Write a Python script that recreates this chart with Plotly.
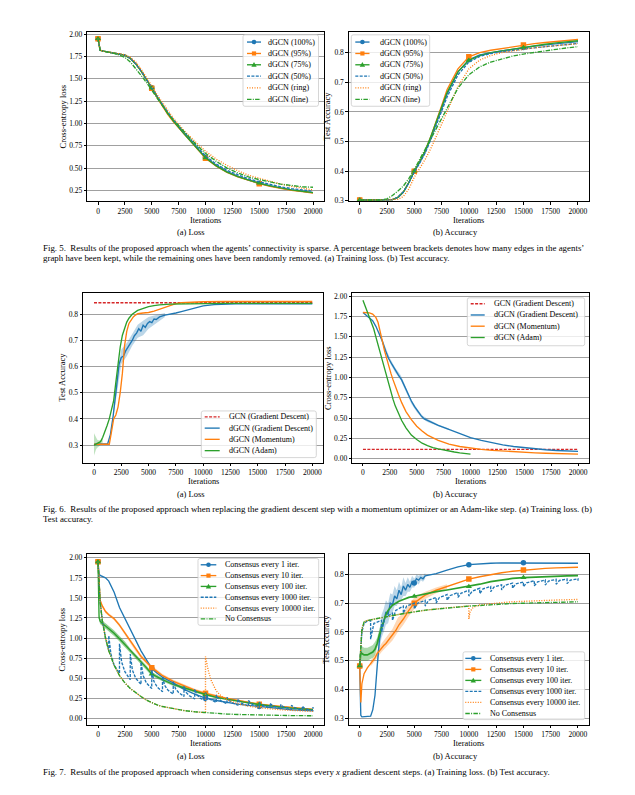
import plotly.graph_objects as go

W, H = 635, 795
FONT = "Liberation Serif"
BLUE, ORANGE, GREEN, RED = "#1f77b4", "#ff7f0e", "#2ca02c", "#d62728"
DASH = "3px,1.4px"
DOT = "1px,1.5px"
DASHDOT = "4.5px,1.3px,1px,1.3px"

x_ticks = [0, 2500, 5000, 7500, 10000, 12500, 15000, 17500, 20000]
loss_ticks_a = [0.25, 0.50, 0.75, 1.00, 1.25, 1.50, 1.75, 2.00]
loss_ticks_b = [0.00, 0.25, 0.50, 0.75, 1.00, 1.25, 1.50, 1.75, 2.00]
acc_ticks = [0.3, 0.4, 0.5, 0.6, 0.7, 0.8]

# ---------------- Fig. 5 ----------------
f5_iter = [0, 200, 500, 1000, 1500, 2000, 2500, 3000, 3500, 4000, 4500, 5000, 5500, 6000, 6500,
           7000, 7500, 8000, 9000, 10000, 11000, 12000, 13000, 14000, 15000, 16000, 17000, 18000, 19000, 20000]
f5_mark_iter = [0, 5000, 10000, 15000]
f5_labels = ["dGCN (100%)", "dGCN (95%)", "dGCN (75%)", "dGCN (50%)", "dGCN (ring)", "dGCN (line)"]

f5_loss_100 = [1.95, 1.82, 1.81, 1.80, 1.79, 1.78, 1.765, 1.73, 1.67, 1.59, 1.50, 1.40, 1.30, 1.20, 1.11,
               1.03, 0.96, 0.89, 0.75, 0.62, 0.53, 0.46, 0.41, 0.365, 0.33, 0.30, 0.275, 0.255, 0.24, 0.225]
f5_loss_95 = [1.95, 1.82, 1.81, 1.80, 1.79, 1.78, 1.765, 1.73, 1.67, 1.59, 1.50, 1.395, 1.29, 1.19, 1.10,
              1.02, 0.95, 0.88, 0.74, 0.61, 0.52, 0.45, 0.40, 0.36, 0.325, 0.295, 0.27, 0.25, 0.235, 0.22]
f5_loss_75 = [1.95, 1.82, 1.81, 1.80, 1.79, 1.78, 1.765, 1.73, 1.67, 1.59, 1.50, 1.40, 1.30, 1.20, 1.11,
              1.03, 0.955, 0.885, 0.75, 0.615, 0.525, 0.455, 0.405, 0.365, 0.33, 0.30, 0.275, 0.255, 0.24, 0.225]
f5_loss_50 = [1.95, 1.82, 1.81, 1.80, 1.79, 1.78, 1.765, 1.73, 1.67, 1.59, 1.50, 1.40, 1.305, 1.21, 1.12,
              1.045, 0.97, 0.905, 0.77, 0.635, 0.545, 0.475, 0.425, 0.38, 0.345, 0.315, 0.29, 0.27, 0.255, 0.24]
f5_loss_ring = [1.95, 1.82, 1.81, 1.80, 1.79, 1.78, 1.77, 1.74, 1.69, 1.61, 1.52, 1.42, 1.32, 1.23, 1.14,
                1.06, 0.99, 0.92, 0.80, 0.69, 0.60, 0.53, 0.47, 0.42, 0.385, 0.35, 0.32, 0.295, 0.275, 0.255]
f5_loss_line = [1.95, 1.82, 1.81, 1.80, 1.785, 1.765, 1.74, 1.69, 1.62, 1.54, 1.46, 1.37, 1.28, 1.19, 1.11,
                1.04, 0.97, 0.91, 0.78, 0.665, 0.575, 0.50, 0.445, 0.40, 0.37, 0.345, 0.32, 0.305, 0.29, 0.285]

f5_acc_100 = [0.303, 0.303, 0.303, 0.303, 0.303, 0.303, 0.303, 0.304, 0.312, 0.33, 0.362, 0.40, 0.43, 0.465, 0.51,
              0.56, 0.61, 0.66, 0.735, 0.776, 0.792, 0.80, 0.806, 0.811, 0.817, 0.822, 0.826, 0.83, 0.834, 0.837]
f5_acc_95 = [0.303, 0.303, 0.303, 0.303, 0.303, 0.303, 0.303, 0.304, 0.312, 0.33, 0.362, 0.40, 0.432, 0.468, 0.515,
             0.565, 0.62, 0.675, 0.745, 0.786, 0.80, 0.808, 0.814, 0.82, 0.826, 0.83, 0.834, 0.838, 0.841, 0.844]
f5_acc_75 = [0.303, 0.303, 0.303, 0.303, 0.303, 0.303, 0.303, 0.304, 0.312, 0.33, 0.362, 0.40, 0.432, 0.468, 0.515,
             0.565, 0.615, 0.665, 0.735, 0.774, 0.79, 0.80, 0.806, 0.812, 0.817, 0.823, 0.828, 0.833, 0.837, 0.84]
f5_acc_50 = [0.303, 0.303, 0.303, 0.303, 0.303, 0.303, 0.303, 0.304, 0.312, 0.33, 0.36, 0.397, 0.428, 0.462, 0.505,
             0.552, 0.60, 0.65, 0.725, 0.768, 0.787, 0.797, 0.803, 0.808, 0.812, 0.816, 0.82, 0.824, 0.828, 0.831]
f5_acc_ring = [0.303, 0.303, 0.303, 0.303, 0.303, 0.303, 0.303, 0.303, 0.305, 0.315, 0.34, 0.38, 0.41, 0.44, 0.475,
               0.515, 0.555, 0.60, 0.685, 0.745, 0.775, 0.79, 0.80, 0.806, 0.812, 0.816, 0.82, 0.824, 0.827, 0.83]
f5_acc_line = [0.303, 0.303, 0.303, 0.303, 0.303, 0.303, 0.307, 0.318, 0.333, 0.35, 0.375, 0.405, 0.44, 0.475, 0.51,
               0.545, 0.58, 0.615, 0.68, 0.725, 0.752, 0.768, 0.779, 0.788, 0.795, 0.801, 0.806, 0.811, 0.816, 0.82]

# ---------------- Fig. 6 ----------------
f6_labels = ["GCN (Gradient Descent)", "dGCN (Gradient Descent)", "dGCN (Momentum)", "dGCN (Adam)"]
f6_gcn_iter = [0, 20000]
f6_gcn_acc = [0.844, 0.844]
f6_gcn_loss = [0.114, 0.114]

f6a_gd_iter = [0, 500, 1000, 1250, 1500, 1750, 2000, 2150, 2300, 2500, 2700, 2900, 3100, 3300, 3500, 3700, 3900,
               4100, 4300, 4500, 4700, 4900, 5100, 5300, 5500, 5700, 6000, 6500, 7000, 7500, 8000, 8500, 9000,
               10000, 11000, 12000, 13000, 14000, 15000, 16000, 17000, 18000, 19000, 20000]
f6a_gd_acc = [0.303, 0.303, 0.303, 0.305, 0.34, 0.41, 0.50, 0.57, 0.61, 0.635, 0.64, 0.66, 0.672, 0.685, 0.70, 0.718,
              0.728, 0.745, 0.735, 0.758, 0.75, 0.765, 0.772, 0.768, 0.782, 0.78, 0.79, 0.797, 0.80, 0.805, 0.81,
              0.815, 0.821, 0.832, 0.837, 0.839, 0.84, 0.84, 0.84, 0.84, 0.84, 0.84, 0.84, 0.84]
f6a_gd_band_iter = [1750, 2000, 2500, 3000, 3500, 4000, 4500, 5000, 5500, 6000, 6500]
f6a_gd_band_lo = [0.40, 0.47, 0.61, 0.64, 0.68, 0.71, 0.72, 0.745, 0.76, 0.775, 0.79]
f6a_gd_band_hi = [0.43, 0.54, 0.665, 0.69, 0.725, 0.76, 0.775, 0.79, 0.795, 0.80, 0.805]

f6a_mom_iter = [0, 500, 1000, 1400, 1600, 1800, 2000, 2200, 2400, 2600, 2800, 3000, 3200, 3400, 3600, 3800, 4000,
                4500, 5000, 5500, 6000, 6500, 7000, 7500, 8000, 9000, 10000, 12000, 14000, 16000, 18000, 20000]
f6a_mom_acc = [0.303, 0.303, 0.303, 0.303, 0.35, 0.40, 0.415, 0.445, 0.50, 0.575, 0.68, 0.735, 0.765, 0.78, 0.79,
               0.797, 0.802, 0.805, 0.807, 0.812, 0.82, 0.828, 0.836, 0.841, 0.844, 0.847, 0.848, 0.849, 0.849,
               0.849, 0.849, 0.849]

f6a_adam_iter = [0, 200, 400, 600, 800, 1000, 1200, 1400, 1600, 1800, 2000, 2200, 2400, 2600, 2800, 3000, 3200,
                 3500, 4000, 4500, 5000, 5500, 6000, 7000, 8000, 10000, 12000, 14000, 16000, 18000, 20000]
f6a_adam_acc = [0.30, 0.305, 0.31, 0.313, 0.33, 0.35, 0.375, 0.40, 0.435, 0.47, 0.54, 0.61, 0.675, 0.72, 0.75, 0.77,
                0.785, 0.80, 0.815, 0.823, 0.829, 0.833, 0.836, 0.839, 0.84, 0.841, 0.842, 0.842, 0.842, 0.842, 0.842]
f6a_adam_band_iter = [0, 100, 200, 300, 400, 600, 800]
f6a_adam_band_lo = [0.26, 0.27, 0.285, 0.29, 0.295, 0.30, 0.31]
f6a_adam_band_hi = [0.345, 0.335, 0.325, 0.32, 0.318, 0.318, 0.325]

f6b_gd_iter = [0, 300, 600, 900, 1200, 1500, 1800, 2100, 2400, 2700, 3000, 3300, 3600, 3900, 4200, 4500, 4800,
               5100, 5400, 5700, 6000, 6500, 7000, 7500, 8000, 8500, 9000, 9500, 10000, 11000, 12000, 13000,
               14000, 15000, 16000, 17000, 18000, 19000, 20000]
f6b_gd_loss = [1.80, 1.77, 1.74, 1.70, 1.63, 1.55, 1.45, 1.33, 1.23, 1.16, 1.09, 1.03, 0.97, 0.88, 0.79, 0.71, 0.64,
               0.58, 0.53, 0.49, 0.47, 0.44, 0.41, 0.385, 0.36, 0.335, 0.31, 0.285, 0.26, 0.225, 0.195, 0.17,
               0.15, 0.135, 0.12, 0.11, 0.10, 0.095, 0.09]
f6b_gd_band_iter = [1500, 2000, 2500, 3000, 3500, 4000, 4500, 5000, 5500, 6000, 6500, 7000, 8000]
f6b_gd_band_lo = [1.53, 1.34, 1.18, 1.06, 0.97, 0.82, 0.675, 0.575, 0.495, 0.45, 0.425, 0.398, 0.35]
f6b_gd_band_hi = [1.57, 1.40, 1.24, 1.12, 1.03, 0.88, 0.725, 0.625, 0.535, 0.49, 0.455, 0.422, 0.37]

f6b_mom_iter = [0, 300, 600, 900, 1200, 1400, 1600, 1800, 2000, 2200, 2400, 2600, 2800, 3000, 3300, 3600, 4000,
                4500, 5000, 5500, 6000, 7000, 8000, 9000, 10000, 11000, 12000, 13000, 14000, 15000, 16000, 17000,
                18000, 19000, 20000]
f6b_mom_loss = [1.80, 1.80, 1.795, 1.78, 1.74, 1.68, 1.58, 1.45, 1.33, 1.23, 1.14, 1.05, 0.97, 0.89, 0.79, 0.69,
                0.58, 0.48, 0.40, 0.34, 0.29, 0.225, 0.18, 0.15, 0.13, 0.115, 0.103, 0.093, 0.085, 0.078, 0.072,
                0.067, 0.062, 0.058, 0.055]

f6b_adam_iter = [0, 200, 400, 600, 800, 1000, 1200, 1400, 1600, 1800, 2000, 2200, 2400, 2600, 2800, 3000, 3300,
                 3600, 4000, 4500, 5000, 5500, 6000, 6500, 7000, 7500, 8000, 8500, 9000, 9500, 10000]
f6b_adam_loss = [1.95, 1.88, 1.80, 1.74, 1.67, 1.60, 1.50, 1.40, 1.31, 1.21, 1.10, 1.00, 0.91, 0.82, 0.73, 0.65,
                 0.56, 0.47, 0.38, 0.29, 0.235, 0.19, 0.16, 0.135, 0.12, 0.105, 0.093, 0.082, 0.072, 0.063, 0.055]

# ---------------- Fig. 7 ----------------
f7_labels = ["Consensus every 1 iter.", "Consensus every 10 iter.", "Consensus every 100 iter.",
             "Consensus every 1000 iter.", "Consensus every 10000 iter.", "No Consensus"]
f7_mark_iter = [0, 5000, 10000, 15000]
f7_iter = [0, 100, 200, 400, 700, 1000, 1500, 2000, 2500, 3000, 3500, 4000, 4500, 5000, 5500, 6000, 7000, 8000,
           9000, 10000, 11000, 12000, 13000, 14000, 15000, 16000, 17000, 18000, 19000, 20000]
f7_loss_c1 = [1.95, 1.80, 1.78, 1.77, 1.75, 1.71, 1.57, 1.38, 1.24, 1.10, 0.97, 0.84, 0.73, 0.62, 0.56, 0.51, 0.44,
              0.36, 0.30, 0.25, 0.22, 0.195, 0.175, 0.16, 0.145, 0.13, 0.115, 0.105, 0.097, 0.09]
f7_loss_c10 = [1.95, 1.62, 1.47, 1.40, 1.33, 1.29, 1.24, 1.16, 1.06, 0.96, 0.86, 0.77, 0.70, 0.63, 0.58, 0.53, 0.46,
               0.40, 0.35, 0.31, 0.275, 0.245, 0.22, 0.195, 0.175, 0.16, 0.145, 0.13, 0.12, 0.11]
f7_loss_c10_spread = [0, 0.02, 0.02, 0.02, 0.02, 0.02, 0.02, 0.02, 0.022, 0.024, 0.025, 0.025, 0.025, 0.025, 0.024,
                      0.022, 0.02, 0.018, 0.016, 0.015, 0.014, 0.013, 0.012, 0.012, 0.011, 0.011, 0.01, 0.01, 0.01, 0.01]
f7_loss_c100 = [1.95, 1.25, 1.21, 1.18, 1.15, 1.12, 1.06, 0.99, 0.92, 0.84, 0.77, 0.70, 0.63, 0.55, 0.51, 0.48, 0.42,
                0.375, 0.335, 0.295, 0.26, 0.235, 0.21, 0.19, 0.17, 0.152, 0.138, 0.126, 0.115, 0.105]
f7_loss_c100_spread = [0, 0.03, 0.035, 0.035, 0.035, 0.035, 0.035, 0.035, 0.035, 0.03, 0.03, 0.03, 0.028, 0.025,
                       0.022, 0.02, 0.018, 0.016, 0.015, 0.014, 0.013, 0.012, 0.012, 0.011, 0.011, 0.01, 0.01,
                       0.01, 0.01, 0.01]
f7_c1000_iter = [0, 100, 200, 400, 700, 999,
                 1000, 1200, 1500, 1999, 2000, 2200, 2500, 2999, 3000, 3200, 3500, 3999, 4000, 4200, 4500, 4999,
                 5000, 5200, 5500, 5999, 6000, 6200, 6500, 6999, 7000, 7200, 7500, 7999, 8000, 8200, 8500, 8999,
                 9000, 9200, 9500, 9999, 10000, 10200, 10500, 10999, 11000, 11200, 11500, 11999, 12000, 12200,
                 12500, 12999, 13000, 13200, 13500, 13999, 14000, 14200, 14500, 14999, 15000, 15200, 15500, 15999,
                 16000, 16200, 16500, 16999, 17000, 17200, 17500, 17999, 18000, 18200, 18500, 18999, 19000, 19200,
                 19500, 19999, 20000]
f7_loss_c1000 = [1.95, 1.60, 1.45, 1.22, 1.00, 0.84,
                 1.03, 0.80, 0.66, 0.56, 0.93, 0.70, 0.58, 0.48, 0.80, 0.60, 0.50, 0.42, 0.70, 0.53, 0.44, 0.37,
                 0.60, 0.46, 0.39, 0.33, 0.52, 0.41, 0.35, 0.30, 0.46, 0.37, 0.32, 0.27, 0.40, 0.32, 0.28, 0.24,
                 0.36, 0.29, 0.25, 0.215, 0.32, 0.26, 0.23, 0.195, 0.29, 0.24, 0.21, 0.18, 0.26, 0.22,
                 0.19, 0.165, 0.24, 0.20, 0.175, 0.15, 0.22, 0.185, 0.16, 0.14, 0.20, 0.17, 0.15, 0.13,
                 0.185, 0.16, 0.14, 0.12, 0.17, 0.145, 0.13, 0.11, 0.16, 0.135, 0.12, 0.10, 0.15, 0.125,
                 0.11, 0.095, 0.14]
f7_c10000_iter = [0, 100, 200, 400, 700, 1000, 1500, 2000, 2500, 3000, 3500, 4000, 4500, 5000, 5500, 6000, 7000,
                  8000, 9000, 9999, 10000, 10100, 10250, 10500, 10750, 11000, 11500, 12000, 13000, 14000, 15000,
                  16000, 17000, 18000, 19000, 20000]
f7_loss_c10000 = [1.95, 1.60, 1.45, 1.22, 1.00, 0.84, 0.66, 0.53, 0.44, 0.37, 0.315, 0.27, 0.225, 0.19, 0.165,
                  0.145, 0.118, 0.095, 0.08, 0.068, 0.77, 0.70, 0.60, 0.48, 0.40, 0.34, 0.27, 0.23, 0.18, 0.15,
                  0.13, 0.115, 0.105, 0.097, 0.09, 0.085]
f7_loss_none = [1.95, 1.60, 1.45, 1.22, 1.00, 0.84, 0.66, 0.53, 0.44, 0.37, 0.315, 0.27, 0.225, 0.19, 0.165, 0.145,
                0.118, 0.095, 0.08, 0.068, 0.058, 0.051, 0.046, 0.042, 0.039, 0.036, 0.034, 0.032, 0.031, 0.03]

f7b_iter = [0, 100, 200, 400, 700, 1000, 1200, 1400, 1600, 1800, 2000, 2200, 2400, 2600, 2800, 3000, 3300, 3600,
            4000, 4500, 5000, 5500, 6000, 7000, 8000, 9000, 10000, 11000, 12000, 13000, 14000, 15000, 16000,
            17000, 18000, 19000, 20000]
f7b_c1_iter = [0, 100, 200, 400, 700, 1000, 1200, 1400, 1600, 1800, 2000, 2200, 2400, 2600, 2800, 3000, 3200, 3400,
               3600, 3800, 4000, 4200, 4400, 4600, 4800, 5000, 5200, 5400, 5600, 5800, 6000, 7000, 8000, 9000,
               10000, 11000, 12000, 13000, 14000, 15000, 16000, 17000, 18000, 19000, 20000]
f7b_acc_c1 = [0.482, 0.31, 0.305, 0.305, 0.305, 0.307, 0.33, 0.38, 0.48, 0.57, 0.62, 0.635, 0.67, 0.66, 0.70, 0.695,
              0.725, 0.715, 0.745, 0.73, 0.76, 0.745, 0.765, 0.755, 0.775, 0.77, 0.785, 0.78, 0.79, 0.785, 0.795,
              0.803, 0.815, 0.826, 0.834, 0.837, 0.839, 0.84, 0.84, 0.841, 0.84, 0.84, 0.84, 0.84, 0.839]
f7b_c1_band_iter = [1600, 1800, 2000, 2200, 2400, 2600, 2800, 3000, 3200, 3400, 3600, 3800, 4000, 4200, 4400, 4600,
                    4800, 5000, 5200, 5400, 5600, 5800, 6000]
f7b_c1_band_lo = [0.46, 0.54, 0.58, 0.60, 0.625, 0.63, 0.66, 0.665, 0.69, 0.69, 0.71, 0.71, 0.725, 0.725, 0.74, 0.74,
                  0.755, 0.755, 0.77, 0.765, 0.78, 0.775, 0.785]
f7b_c1_band_hi = [0.50, 0.60, 0.66, 0.68, 0.71, 0.70, 0.735, 0.73, 0.76, 0.745, 0.775, 0.755, 0.79, 0.77, 0.79, 0.775,
                  0.795, 0.785, 0.80, 0.795, 0.80, 0.795, 0.805]
f7b_acc_c10 = [0.482, 0.355, 0.42, 0.455, 0.475, 0.49, 0.50, 0.51, 0.525, 0.535, 0.545, 0.553, 0.56, 0.57, 0.58,
               0.59, 0.605, 0.625, 0.645, 0.675, 0.70, 0.715, 0.728, 0.745, 0.758, 0.772, 0.784, 0.792, 0.80,
               0.806, 0.811, 0.815, 0.818, 0.821, 0.823, 0.824, 0.825]
f7b_c10_band_iter = [1000, 2000, 3000, 3500, 4000, 4500, 5000, 5500, 6000, 7000, 8000]
f7b_c10_band_lo = [0.48, 0.53, 0.57, 0.60, 0.625, 0.655, 0.68, 0.70, 0.715, 0.735, 0.75]
f7b_c10_band_hi = [0.50, 0.56, 0.61, 0.65, 0.665, 0.695, 0.72, 0.73, 0.74, 0.755, 0.766]
f7b_acc_c100 = [0.482, 0.53, 0.525, 0.52, 0.52, 0.525, 0.53, 0.54, 0.56, 0.59, 0.615, 0.64, 0.66, 0.675, 0.685,
                0.693, 0.70, 0.707, 0.713, 0.72, 0.724, 0.728, 0.733, 0.74, 0.746, 0.752, 0.758, 0.766, 0.775,
                0.781, 0.786, 0.789, 0.791, 0.793, 0.794, 0.795, 0.796]
f7b_c100_band_iter = [100, 200, 400, 700, 1000, 1200, 1400, 1600, 1800, 2000]
f7b_c100_band_lo = [0.50, 0.50, 0.50, 0.50, 0.505, 0.51, 0.52, 0.54, 0.57, 0.595]
f7b_c100_band_hi = [0.55, 0.55, 0.545, 0.545, 0.55, 0.555, 0.565, 0.58, 0.61, 0.635]
f7b_c1000_iter = [0, 100, 200, 400, 700, 999, 1000, 1300, 1999, 2000, 2300, 2999, 3000, 3300, 3999, 4000, 4300, 4999,
                  5000, 5300, 5999, 6000, 6300, 6999, 7000, 7300, 7999, 8000, 8300, 8999, 9000, 9300, 9999, 10000,
                  10300, 10999, 11000, 11300, 11999, 12000, 12300, 12999, 13000, 13300, 13999, 14000, 14300, 14999,
                  15000, 15300, 15999, 16000, 16300, 16999, 17000, 17300, 17999, 18000, 18300, 18999, 19000, 19300,
                  19999, 20000]
f7b_acc_c1000 = [0.482, 0.55, 0.60, 0.63, 0.638, 0.64, 0.575, 0.63, 0.64, 0.60, 0.65, 0.665, 0.64, 0.675, 0.69,
                 0.665, 0.69, 0.70, 0.68, 0.70, 0.71, 0.69, 0.71, 0.72, 0.70, 0.72, 0.73, 0.71, 0.727, 0.737,
                 0.72, 0.735, 0.745, 0.725, 0.742, 0.752, 0.733, 0.75, 0.758, 0.74, 0.756, 0.764, 0.746, 0.762,
                 0.77, 0.752, 0.767, 0.774, 0.757, 0.771, 0.778, 0.76, 0.774, 0.781, 0.763, 0.777, 0.783, 0.766,
                 0.779, 0.784, 0.768, 0.78, 0.785, 0.778]
f7b_c10000_iter = [0, 100, 200, 400, 700, 1000, 2000, 3000, 4000, 5000, 6000, 7000, 8000, 9000, 9999, 10000, 10100,
                   10300, 10600, 11000, 12000, 13000, 14000, 15000, 16000, 17000, 18000, 19000, 20000]
f7b_acc_c10000 = [0.482, 0.56, 0.61, 0.635, 0.64, 0.642, 0.65, 0.657, 0.664, 0.67, 0.676, 0.68, 0.684, 0.687, 0.69,
                  0.645, 0.668, 0.682, 0.689, 0.694, 0.699, 0.702, 0.705, 0.707, 0.709, 0.71, 0.711, 0.712, 0.713]
f7b_acc_none = [0.482, 0.56, 0.61, 0.635, 0.64, 0.642, 0.644, 0.645, 0.647, 0.648, 0.65, 0.651, 0.652, 0.654, 0.655,
                0.657, 0.659, 0.661, 0.664, 0.667, 0.67, 0.673, 0.676, 0.68, 0.684, 0.687, 0.69, 0.692, 0.695,
                0.697, 0.699, 0.70, 0.701, 0.702, 0.703, 0.704, 0.705]

# ---------------- figure ----------------
fig = go.Figure()


def axn(a):
    return ("x" + a, "y" + a)


def line(a, x, y, color, dash="solid", width=1.35):
    xa, ya = axn(a)
    fig.add_trace(go.Scatter(x=x, y=y, mode="lines", line=dict(color=color, width=width, dash=dash),
                             xaxis=xa, yaxis=ya, hoverinfo="skip", showlegend=False))


def band(a, x, lo, hi, rgba):
    xa, ya = axn(a)
    fig.add_trace(go.Scatter(x=list(x) + list(x)[::-1], y=list(hi) + list(lo)[::-1], fill="toself",
                             fillcolor=rgba, line=dict(width=0), mode="lines", xaxis=xa, yaxis=ya,
                             hoverinfo="skip", showlegend=False))


def spread_band(a, x, y, s, rgba):
    band(a, x, [v - d for v, d in zip(y, s)], [v + d for v, d in zip(y, s)], rgba)


def marks(a, xs, ys, mx, color, symbol):
    xa, ya = axn(a)
    my = [ys[xs.index(m)] for m in mx]
    fig.add_trace(go.Scatter(x=mx, y=my, mode="markers",
                             marker=dict(symbol=symbol, size=5.5, color=color, line=dict(width=0)),
                             xaxis=xa, yaxis=ya, hoverinfo="skip", showlegend=False))


# Fig 5a
line("", f5_iter, f5_loss_100, BLUE)
marks("", f5_iter, f5_loss_100, f5_mark_iter, BLUE, "circle")
line("", f5_iter, f5_loss_95, ORANGE)
marks("", f5_iter, f5_loss_95, f5_mark_iter, ORANGE, "square")
line("", f5_iter, f5_loss_75, GREEN)
marks("", f5_iter, f5_loss_75, f5_mark_iter, GREEN, "triangle-up")
line("", f5_iter, f5_loss_50, BLUE, DASH)
line("", f5_iter, f5_loss_ring, ORANGE, DOT)
line("", f5_iter, f5_loss_line, GREEN, DASHDOT)
# Fig 5b
line("2", f5_iter, f5_acc_100, BLUE)
marks("2", f5_iter, f5_acc_100, f5_mark_iter, BLUE, "circle")
line("2", f5_iter, f5_acc_95, ORANGE)
marks("2", f5_iter, f5_acc_95, f5_mark_iter, ORANGE, "square")
line("2", f5_iter, f5_acc_75, GREEN)
marks("2", f5_iter, f5_acc_75, f5_mark_iter, GREEN, "triangle-up")
line("2", f5_iter, f5_acc_50, BLUE, DASH)
line("2", f5_iter, f5_acc_ring, ORANGE, DOT)
line("2", f5_iter, f5_acc_line, GREEN, DASHDOT)
# Fig 6a
band("3", f6a_gd_band_iter, f6a_gd_band_lo, f6a_gd_band_hi, "rgba(31,119,180,0.3)")
band("3", f6a_adam_band_iter, f6a_adam_band_lo, f6a_adam_band_hi, "rgba(44,160,44,0.3)")
line("3", f6_gcn_iter, f6_gcn_acc, RED, DASH)
line("3", f6a_gd_iter, f6a_gd_acc, BLUE)
line("3", f6a_mom_iter, f6a_mom_acc, ORANGE)
line("3", f6a_adam_iter, f6a_adam_acc, GREEN)
# Fig 6b
band("4", f6b_gd_band_iter, f6b_gd_band_lo, f6b_gd_band_hi, "rgba(31,119,180,0.3)")
line("4", f6_gcn_iter, f6_gcn_loss, RED, DASH)
line("4", f6b_gd_iter, f6b_gd_loss, BLUE)
line("4", f6b_mom_iter, f6b_mom_loss, ORANGE)
line("4", f6b_adam_iter, f6b_adam_loss, GREEN)
# Fig 7a
spread_band("5", f7_iter, f7_loss_c10, f7_loss_c10_spread, "rgba(255,127,14,0.35)")
spread_band("5", f7_iter, f7_loss_c100, f7_loss_c100_spread, "rgba(44,160,44,0.5)")
line("5", f7_iter, f7_loss_c1, BLUE)
marks("5", f7_iter, f7_loss_c1, f7_mark_iter, BLUE, "circle")
line("5", f7_iter, f7_loss_c10, ORANGE)
marks("5", f7_iter, f7_loss_c10, f7_mark_iter, ORANGE, "square")
line("5", f7_iter, f7_loss_c100, GREEN)
marks("5", f7_iter, f7_loss_c100, f7_mark_iter, GREEN, "triangle-up")
line("5", f7_c1000_iter, f7_loss_c1000, BLUE, DASH)
line("5", f7_c10000_iter, f7_loss_c10000, ORANGE, DOT)
line("5", f7_iter, f7_loss_none, GREEN, DASHDOT)
# Fig 7b
band("6", f7b_c1_band_iter, f7b_c1_band_lo, f7b_c1_band_hi, "rgba(31,119,180,0.3)")
band("6", f7b_c10_band_iter, f7b_c10_band_lo, f7b_c10_band_hi, "rgba(255,127,14,0.3)")
band("6", f7b_c100_band_iter, f7b_c100_band_lo, f7b_c100_band_hi, "rgba(44,160,44,0.4)")
line("6", f7b_c1_iter, f7b_acc_c1, BLUE)
marks("6", f7b_c1_iter, f7b_acc_c1, f7_mark_iter, BLUE, "circle")
line("6", f7b_iter, f7b_acc_c10, ORANGE)
marks("6", f7b_iter, f7b_acc_c10, f7_mark_iter, ORANGE, "square")
line("6", f7b_iter, f7b_acc_c100, GREEN, width=1.7)
marks("6", f7b_iter, f7b_acc_c100, f7_mark_iter, GREEN, "triangle-up")
line("6", f7b_c1000_iter, f7b_acc_c1000, BLUE, DASH)
line("6", f7b_c10000_iter, f7b_acc_c10000, ORANGE, DOT)
line("6", f7b_iter, f7b_acc_none, GREEN, DASHDOT)

# ---------------- axes ----------------
panels = [
    ("", (79.25, 315.75), (21.7, 192.7), [0.128, 2.03], loss_ticks_a, "{:.2f}"),
    ("2", (340.8, 580.9), (21.7, 192.7), [0.2987, 0.871], acc_ticks, "{:.1f}"),
    ("3", (75.1, 315.2), (285.0, 456.0), [0.233, 0.882], acc_ticks, "{:.1f}"),
    ("4", (344.2, 580.8), (285.0, 456.0), [-0.048, 2.042], loss_ticks_b, "{:.2f}"),
    ("5", (79.25, 315.75), (548.3, 720.0), [-0.08, 2.046], loss_ticks_b, "{:.2f}"),
    ("6", (340.8, 580.9), (548.3, 720.0), [0.278, 0.8705], acc_ticks, "{:.1f}"),
]
layout_axes = {}
tickfont = dict(family=FONT, size=7.5, color="black")
for a, (x0, x1), (y0, y1), yr, yt, fmt in panels:
    layout_axes["xaxis" + a] = dict(
        domain=[x0 / W, x1 / W], anchor="y" + a, range=[-1000, 21000], tickvals=x_ticks,
        ticktext=[str(t) for t in x_ticks], showline=True, linecolor="black", linewidth=1, mirror=True,
        ticks="outside", ticklen=2.5, tickwidth=0.8, tickcolor="black", showgrid=False, zeroline=False,
        tickfont=tickfont, fixedrange=True)
    layout_axes["yaxis" + a] = dict(
        domain=[1 - y1 / H, 1 - y0 / H], anchor="x" + a, range=yr, tickvals=yt,
        ticktext=[fmt.format(t) for t in yt], showline=True, linecolor="black", linewidth=1, mirror=True,
        ticks="outside", ticklen=2.5, tickwidth=0.8, tickcolor="black", showgrid=True, gridcolor="#a0a0a0",
        gridwidth=1.4, zeroline=False, tickfont=tickfont, fixedrange=True)

# ---------------- text & legends ----------------
annotations = []
shapes = []


def text(x, y, s, size, xanchor="center", angle=0):
    annotations.append(dict(x=x / W, y=1 - y / H, xref="paper", yref="paper", text=s, showarrow=False,
                            xanchor=xanchor, yanchor="middle", textangle=angle,
                            font=dict(family=FONT, size=size, color="black")))


def pp(x, y):
    return f"{x / W:.5f},{1 - y / H:.5f}"


def legend(box, rows, sx, tx, entries):
    x0, y0, x1, y1 = box
    r = 2.0
    path = ("M" + pp(x0 + r, y0) + " L" + pp(x1 - r, y0) + " Q" + pp(x1, y0) + " " + pp(x1, y0 + r) +
            " L" + pp(x1, y1 - r) + " Q" + pp(x1, y1) + " " + pp(x1 - r, y1) +
            " L" + pp(x0 + r, y1) + " Q" + pp(x0, y1) + " " + pp(x0, y1 - r) +
            " L" + pp(x0, y0 + r) + " Q" + pp(x0, y0) + " " + pp(x0 + r, y0) + " Z")
    shapes.append(dict(type="path", path=path, xref="paper", yref="paper", layer="above",
                       fillcolor="rgba(255,255,255,0.8)", line=dict(color="#cccccc", width=0.8)))
    for yy, (label, color, dash, sym) in zip(rows, entries):
        shapes.append(dict(type="line", xref="paper", yref="paper", layer="above",
                           x0=sx[0] / W, x1=sx[1] / W, y0=1 - yy / H, y1=1 - yy / H,
                           line=dict(color=color, width=1.35, dash=dash)))
        cx = (sx[0] + sx[1]) / 2
        if sym == "circle":
            shapes.append(dict(type="circle", xref="paper", yref="paper", layer="above",
                               x0=(cx - 2.3) / W, x1=(cx + 2.3) / W, y0=1 - (yy + 2.3) / H,
                               y1=1 - (yy - 2.3) / H, fillcolor=color, line=dict(width=0)))
        elif sym == "square":
            shapes.append(dict(type="rect", xref="paper", yref="paper", layer="above",
                               x0=(cx - 2.1) / W, x1=(cx + 2.1) / W, y0=1 - (yy + 2.1) / H,
                               y1=1 - (yy - 2.1) / H, fillcolor=color, line=dict(width=0)))
        elif sym == "triangle":
            p = "M" + pp(cx, yy - 2.7) + " L" + pp(cx + 2.7, yy + 2.0) + " L" + pp(cx - 2.7, yy + 2.0) + " Z"
            shapes.append(dict(type="path", path=p, xref="paper", yref="paper", layer="above",
                               fillcolor=color, line=dict(width=0)))
        text(tx, yy, label, 8, xanchor="left")


styles6 = [(BLUE, "solid", "circle"), (ORANGE, "solid", "square"), (GREEN, "solid", "triangle"),
           (BLUE, DASH, None), (ORANGE, DOT, None), (GREEN, DASHDOT, None)]
ent5 = [(l,) + s for l, s in zip(f5_labels, styles6)]
ent7 = [(l,) + s for l, s in zip(f7_labels, styles6)]
ent6 = [(l,) + s for l, s in zip(f6_labels, [(RED, DASH, None), (BLUE, "solid", None),
                                             (ORANGE, "solid", None), (GREEN, "solid", None)])]

rows5 = [32.3, 43.8, 55.2, 66.7, 78.4, 90.0]
legend((235.0, 25.0, 310.5, 97.0), rows5, (239.0, 253.0), 258.0, ent5)
legend((343.3, 25.0, 421.7, 97.0), rows5, (347.3, 361.5), 370.0, ent5)
legend((193.3, 404.0, 308.3, 451.0), [410.0, 421.3, 432.6, 444.0], (196.7, 211.7), 219.3, ent6)
legend((459.3, 290.0, 576.7, 338.3), [296.0, 307.3, 318.6, 330.0], (462.7, 476.7), 484.0, ent6)
legend((190.0, 552.7, 310.7, 620.0), [559.0, 569.9, 580.8, 591.7, 602.6, 613.5], (192.7, 208.3), 215.0, ent7)
legend((455.0, 646.7, 576.7, 715.0), [653.3, 664.4, 675.5, 686.6, 697.7, 708.8], (457.3, 473.3), 480.0, ent7)

# axis titles
for (xc, yc_x, ytitle_x, yc_y, ytitle) in [
    (197.5, 212.0, 55.0, 107.2, "Cross-entropy loss"),
    (460.8, 212.0, 319.3, 107.2, "Test Accuracy"),
    (195.1, 475.5, 54.0, 370.5, "Test Accuracy"),
    (462.5, 475.5, 319.3, 370.5, "Cross-entropy loss"),
    (197.5, 739.5, 54.0, 634.2, "Cross-entropy loss"),
    (460.8, 739.5, 318.3, 634.2, "Test Accuracy"),
]:
    text(xc, yc_x, "Iterations", 8.3)
    text(ytitle_x, yc_y, ytitle, 8.5, angle=-90)

for yy in (223.2, 487.5, 751.2):
    text(183.0, yy, "(a) Loss", 8.5)
    text(447.7, yy, "(b) Accuracy", 8.5)

NB = "\u00a0\u00a0"
cap_x = 33.0
CAP = 8.9
text(cap_x, 239.5, "Fig. 5." + NB + "Results of the proposed approach when the agents\u2019 connectivity is sparse. "
     "A percentage between brackets denotes how many edges in the agents\u2019", CAP, xanchor="left")
text(cap_x, 249.7, "graph have been kept, while the remaining ones have been randomly removed. "
     "(a) Training loss. (b) Test accuracy.", CAP, xanchor="left")
text(cap_x, 503.0, "Fig. 6." + NB + "Results of the proposed approach when replacing the gradient descent step "
     "with a momentum optimizer or an Adam-like step. (a) Training loss. (b)", CAP, xanchor="left")
text(cap_x, 513.2, "Test accuracy.", CAP, xanchor="left")
text(cap_x, 767.5, "Fig. 7." + NB + "Results of the proposed approach when considering consensus steps every "
     "<i>x</i> gradient descent steps. (a) Training loss. (b) Test accuracy.", CAP, xanchor="left")

fig.update_layout(width=W, height=H, margin=dict(l=0, r=0, t=0, b=0), paper_bgcolor="white",
                  plot_bgcolor="rgba(0,0,0,0)", showlegend=False, font=dict(family=FONT, color="black"),
                  annotations=annotations, shapes=shapes, **layout_axes)
fig.write_html("out.html")
